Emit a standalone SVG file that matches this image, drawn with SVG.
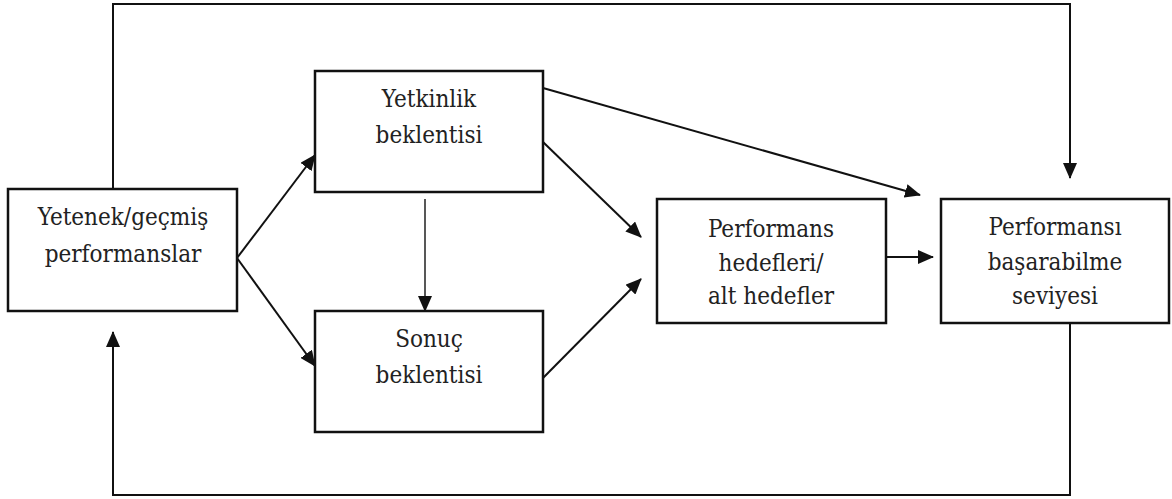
<svg xmlns="http://www.w3.org/2000/svg" width="1172" height="499" viewBox="0 0 1172 499">
  <style>
    .box { fill: #ffffff; stroke: #111111; stroke-width: 2.5; }
    .lbl { font-family: 'DejaVu Serif Condensed', 'DejaVu Serif', serif; font-stretch: condensed; font-size: 24px; fill: #222222; text-anchor: middle; }
    .edge { fill: none; stroke: #111111; stroke-width: 2; }
    .thin { stroke-width: 1.4; }
  </style>
  <defs>
    <marker id="ah" viewBox="0 0 16 14" refX="15" refY="7" markerWidth="16" markerHeight="14" markerUnits="userSpaceOnUse" orient="auto">
      <path d="M0,0 L16,7 L0,14 z" fill="#111111"/>
    </marker>
  </defs>
  <rect width="1172" height="499" fill="#ffffff"/>

  <g id="connectors">
    <!-- outer feedback loop over the top -->
    <polyline class="edge" points="113,189 113,4 1070,4 1070,178" marker-end="url(#ah)"/>
    <!-- outer feedback loop along the bottom -->
    <polyline class="edge" points="1070,323 1070,495 113,495 113,332" marker-end="url(#ah)"/>
    <!-- ability / past performance to the two expectations -->
    <line class="edge" x1="237" y1="258" x2="315" y2="155" marker-end="url(#ah)"/>
    <line class="edge" x1="237" y1="258" x2="315" y2="366" marker-end="url(#ah)"/>
    <!-- efficacy expectation to outcome expectation -->
    <line class="edge thin" x1="425" y1="199" x2="425" y2="311" marker-end="url(#ah)"/>
    <!-- expectations to performance goals -->
    <line class="edge" x1="543" y1="142" x2="641" y2="237" marker-end="url(#ah)"/>
    <line class="edge" x1="543" y1="378" x2="641" y2="279" marker-end="url(#ah)"/>
    <!-- efficacy expectation to attainment level -->
    <line class="edge" x1="543" y1="88" x2="920" y2="195" marker-end="url(#ah)"/>
    <!-- goals to attainment level -->
    <line class="edge" x1="886" y1="257" x2="933" y2="257" marker-end="url(#ah)"/>
  </g>

  <g id="node-yetenek">
    <rect class="box" x="8" y="189" width="229" height="122"/>
    <text class="lbl" x="123" y="225">Yetenek/geçmiş</text>
    <text class="lbl" x="123" y="262">performanslar</text>
  </g>

  <g id="node-yetkinlik">
    <rect class="box" x="315" y="71" width="228" height="121"/>
    <text class="lbl" x="429" y="107">Yetkinlik</text>
    <text class="lbl" x="429" y="143">beklentisi</text>
  </g>

  <g id="node-sonuc">
    <rect class="box" x="315" y="311" width="228" height="121"/>
    <text class="lbl" x="429" y="347">Sonuç</text>
    <text class="lbl" x="429" y="383">beklentisi</text>
  </g>

  <g id="node-hedefler">
    <rect class="box" x="657" y="199" width="229" height="124"/>
    <text class="lbl" x="771" y="237">Performans</text>
    <text class="lbl" x="771" y="271">hedefleri/</text>
    <text class="lbl" x="771" y="304">alt hedefler</text>
  </g>

  <g id="node-seviye">
    <rect class="box" x="941" y="199" width="228" height="124"/>
    <text class="lbl" x="1055" y="235">Performansı</text>
    <text class="lbl" x="1055" y="270">başarabilme</text>
    <text class="lbl" x="1055" y="304">seviyesi</text>
  </g>
</svg>
